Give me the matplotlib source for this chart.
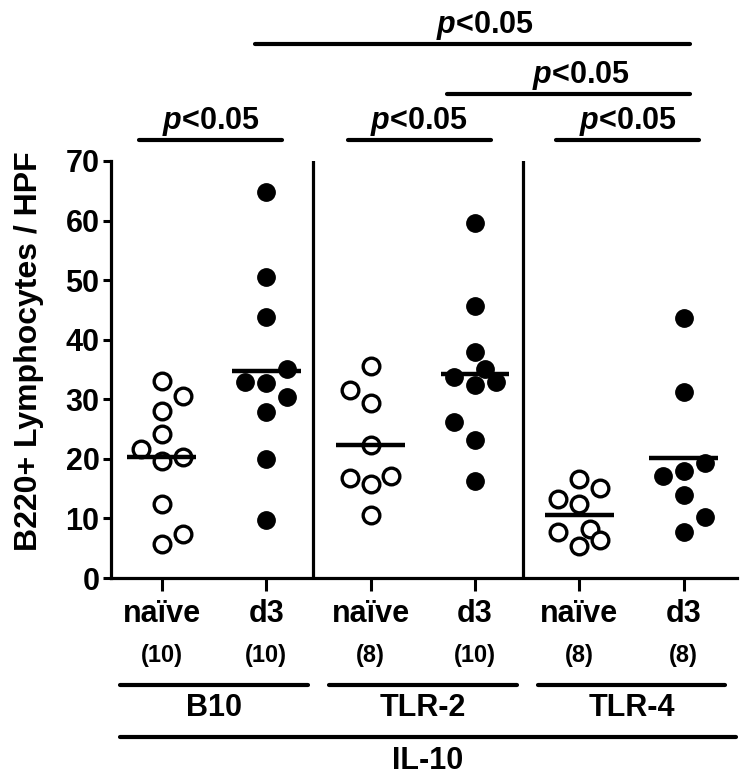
import matplotlib
matplotlib.use("Agg")
import matplotlib.pyplot as plt

plt.rcParams['font.family'] = ['Liberation Sans', 'DejaVu Sans']
plt.rcParams['font.weight'] = 'bold'
plt.rcParams['mathtext.fontset'] = 'custom'
plt.rcParams['mathtext.it'] = 'Liberation Sans:bold:italic'

# --- data ---------------------------------------------------------------
conditions = ['naïve', 'd3', 'naïve', 'd3', 'naïve', 'd3']
n_labels = ['(10)', '(10)', '(8)', '(10)', '(8)', '(8)']
strains = ['B10', 'TLR-2', 'TLR-4']
background = 'IL-10'

b10_naive = [33.0, 30.5, 28.1, 24.2, 21.7, 19.6, 20.3, 12.4, 7.4, 5.7]
b10_d3 = [64.8, 50.5, 43.8, 35.0, 32.9, 32.7, 30.4, 27.9, 19.9, 9.8]
tlr2_naive = [35.6, 31.6, 29.4, 22.4, 16.8, 17.1, 15.8, 10.5]
tlr2_d3 = [59.6, 45.6, 38.0, 35.0, 33.7, 32.4, 32.9, 26.2, 23.1, 16.2]
tlr4_naive = [16.6, 15.1, 13.3, 12.4, 7.8, 8.2, 6.4, 5.3]
tlr4_d3 = [43.7, 31.3, 19.3, 17.2, 18.0, 13.9, 10.2, 7.8]

# horizontal scatter offsets (column units) so points don't overlap
b10_naive_dx = [0, .2, 0, 0, -.2, 0, .2, 0, .2, 0]
b10_d3_dx = [0, 0, 0, .2, -.2, 0, .2, 0, 0, 0]
tlr2_naive_dx = [0, -.2, 0, 0, -.2, .2, 0, 0]
tlr2_d3_dx = [0, 0, 0, .1, -.2, 0, .2, -.2, 0, 0]
tlr4_naive_dx = [0, .2, -.2, 0, -.2, .1, .2, 0]
tlr4_d3_dx = [0, 0, .2, -.2, 0, 0, .2, 0]

# significance brackets: (from column, to column, height)
brackets = [(0, 1, 73.6), (2, 3, 73.6), (4, 5, 73.6),
            (3, 5, 81.3), (1, 5, 89.6)]

groups = [b10_naive, b10_d3, tlr2_naive, tlr2_d3, tlr4_naive, tlr4_d3]
offsets = [b10_naive_dx, b10_d3_dx, tlr2_naive_dx, tlr2_d3_dx,
           tlr4_naive_dx, tlr4_d3_dx]

# --- figure -------------------------------------------------------------
fig = plt.figure(figsize=(7.5, 7.83), dpi=100)
ax = fig.add_axes([0.1476, 0.2618, 0.835, 0.5326])

for i, (vals, dx) in enumerate(zip(groups, offsets)):
    xs = [i + d for d in dx]
    if i % 2 == 0:
        ax.plot(xs, vals, 'o', ms=12, mfc='white', mec='black', mew=2.4,
                ls='none', zorder=3, clip_on=False)
    else:
        ax.plot(xs, vals, 'o', ms=12.5, mfc='black', mec='black', mew=1,
                ls='none', zorder=3, clip_on=False)
    mean = sum(vals) / len(vals)
    ax.plot([i - 0.33, i + 0.33], [mean, mean], color='black', lw=3.2,
            solid_capstyle='butt', zorder=4)

# strain dividers
for xd in (1.45, 3.46):
    ax.plot([xd, xd], [0, 70], color='black', lw=2.3, zorder=2)

ax.set_xlim(-0.49, 5.51)
ax.set_ylim(0, 70)
ax.set_yticks(range(0, 71, 10))
ax.set_xticks(range(6))
ax.set_xticklabels([])
ax.tick_params(axis='y', length=6, width=2.2, labelsize=22, pad=2)
ax.tick_params(axis='x', length=9, width=2.2)
for lab in ax.get_yticklabels():
    lab.set_fontweight('bold')
for s in ('top', 'right'):
    ax.spines[s].set_visible(False)
for s in ('left', 'bottom'):
    ax.spines[s].set_linewidth(2.3)

ax.set_ylabel('B220+ Lymphocytes / HPF', fontsize=23, fontweight='bold')
ax.yaxis.set_label_coords(-0.107, 0.545)

# significance bars
for a, b, h in brackets:
    if b - a == 1:
        x0, x1 = a - 0.22, b + 0.15
        xt = (x0 + x1) / 2
    else:
        x0, x1 = a - (0.11 if b - a > 2 else 0.27), b + 0.06
        xt = (x0 + x1) / 2 + 0.12
    ax.plot([x0, x1], [h, h], color='black', lw=3, clip_on=False,
            solid_capstyle='round')
    ax.text(xt, h + 1.8, r'$p$<0.05', ha='center', va='baseline',
            fontsize=22, fontweight='bold')

# labels under the axis
for i, (c, n) in enumerate(zip(conditions, n_labels)):
    ax.text(i, -7.4, c, ha='center', va='baseline', fontsize=22,
            fontweight='bold', clip_on=False)
    ax.text(i, -14.1, n, ha='center', va='baseline', fontsize=17,
            fontweight='bold', clip_on=False)

for k, name in enumerate(strains):
    c = 2 * k + 0.5
    ax.plot([c - 0.9, c + 0.9], [-17.9, -17.9], color='black', lw=3,
            clip_on=False, solid_capstyle='round')
    ax.text(c, -23.1, name, ha='center', va='baseline', fontsize=22,
            fontweight='bold')

ax.plot([-0.4, 5.5], [-26.7, -26.7], color='black', lw=3, clip_on=False,
        solid_capstyle='round')
ax.text(2.55, -32.0, background, ha='center', va='baseline', fontsize=22,
        fontweight='bold')

fig.savefig('out.png', dpi=100)
